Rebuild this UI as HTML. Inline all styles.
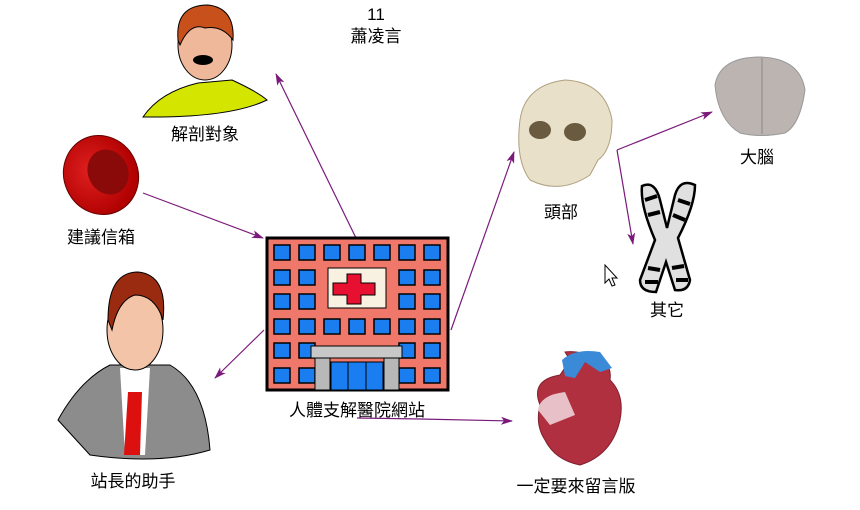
<!DOCTYPE html>
<html><head><meta charset="utf-8"><style>
body{margin:0;background:#fff;width:860px;height:510px;overflow:hidden}
svg{display:block}
text{font-family:"Liberation Sans","Noto Sans CJK TC",sans-serif;font-size:17px;fill:#000;text-anchor:middle}
</style></head><body>
<svg width="860" height="510" viewBox="0 0 860 510">
<defs>
<marker id="a" markerWidth="12" markerHeight="8" refX="11" refY="4" orient="auto" markerUnits="userSpaceOnUse">
<path d="M0,0 L12,4 L0,8 L3,4 Z" fill="#7a1a7a"/></marker>
<radialGradient id="rc" cx="0.4" cy="0.4" r="0.6"><stop offset="0" stop-color="#e02020"/><stop offset="1" stop-color="#b00000"/></radialGradient>
</defs>
<g stroke="#7a1a7a" stroke-width="1.2" fill="none">
<line x1="356" y1="238" x2="276" y2="74" marker-end="url(#a)"/>
<line x1="143" y1="193" x2="263" y2="238" marker-end="url(#a)"/>
<line x1="264" y1="330" x2="215" y2="378" marker-end="url(#a)"/>
<line x1="451" y1="330" x2="514" y2="152" marker-end="url(#a)"/>
<polyline points="357,418 420,419 512,421" marker-end="url(#a)"/>
<line x1="617" y1="150" x2="712" y2="112" marker-end="url(#a)"/>
<line x1="617" y1="150" x2="633" y2="244" marker-end="url(#a)"/>
</g>
<path d="M143,117 Q160,92 198,83 L232,80 Q258,92 267,100 Q230,118 143,117 Z" fill="#d4e600" stroke="#000"/>
<ellipse cx="205" cy="45" rx="27" ry="35" fill="#f0b89a" stroke="#000"/>
<path d="M178,40 Q175,5 208,5 Q235,8 233,40 Q222,25 205,28 Q190,22 180,45 Z" fill="#c8501a" stroke="#000"/>
<ellipse cx="203" cy="60" rx="10" ry="5" fill="#000"/>
<ellipse cx="101" cy="175" rx="37" ry="40" transform="rotate(-25 101 175)" fill="url(#rc)" stroke="#600"/>
<ellipse cx="108" cy="172" rx="20" ry="23" transform="rotate(-25 108 172)" fill="#8a0a0a"/>
<path d="M58,420 Q80,380 110,365 L170,365 Q205,385 210,450 Q160,465 90,455 Z" fill="#8c8c8c" stroke="#000"/>
<path d="M120,368 L150,368 L145,455 L125,455 Z" fill="#fff"/>
<path d="M128,392 L142,392 L140,455 L124,455 Z" fill="#dd1010"/>
<ellipse cx="135" cy="330" rx="28" ry="40" fill="#f4c4a8" stroke="#000"/>
<path d="M108,320 Q108,272 138,272 Q168,275 163,320 Q155,295 135,295 Q118,300 112,330 Z" fill="#9a2a10" stroke="#000"/>
<rect x="267" y="238" width="181" height="152" fill="#f0786a" stroke="#000" stroke-width="3"/>
<g fill="#1a7ef0" stroke="#000" stroke-width="1.5">
<rect x="274" y="245" width="16" height="15"/><rect x="299" y="245" width="16" height="15"/><rect x="324" y="245" width="16" height="15"/><rect x="349" y="245" width="16" height="15"/><rect x="374" y="245" width="16" height="15"/><rect x="399" y="245" width="16" height="15"/><rect x="424" y="245" width="16" height="15"/>
<rect x="274" y="270" width="16" height="15"/><rect x="299" y="270" width="16" height="15"/><rect x="399" y="270" width="16" height="15"/><rect x="424" y="270" width="16" height="15"/>
<rect x="274" y="294" width="16" height="15"/><rect x="299" y="294" width="16" height="15"/><rect x="399" y="294" width="16" height="15"/><rect x="424" y="294" width="16" height="15"/>
<rect x="274" y="319" width="16" height="15"/><rect x="299" y="319" width="16" height="15"/><rect x="324" y="319" width="16" height="15"/><rect x="349" y="319" width="16" height="15"/><rect x="374" y="319" width="16" height="15"/><rect x="399" y="319" width="16" height="15"/><rect x="424" y="319" width="16" height="15"/>
<rect x="274" y="343" width="16" height="15"/><rect x="299" y="343" width="16" height="15"/><rect x="399" y="343" width="16" height="15"/><rect x="424" y="343" width="16" height="15"/>
<rect x="274" y="368" width="16" height="15"/><rect x="299" y="368" width="16" height="15"/><rect x="399" y="368" width="16" height="15"/><rect x="424" y="368" width="16" height="15"/>
</g>
<rect x="328" y="268" width="58" height="40" fill="#f8f0e0" stroke="#000"/>
<path d="M347,274 h14 v9 h14 v12 h-14 v9 h-14 v-9 h-14 v-12 h14 Z" fill="#e81030" stroke="#000"/>
<rect x="311" y="346" width="91" height="12" fill="#c8c8c8" stroke="#000"/>
<rect x="315" y="358" width="15" height="32" fill="#b8b8b8" stroke="#000"/>
<rect x="384" y="358" width="15" height="32" fill="#b8b8b8" stroke="#000"/>
<rect x="331" y="362" width="52" height="28" fill="#1a7ef0" stroke="#000"/>
<line x1="348" y1="362" x2="348" y2="390" stroke="#000"/><line x1="366" y1="362" x2="366" y2="390" stroke="#000"/>
<path d="M520,120 Q525,85 565,80 Q605,82 612,120 Q612,150 598,160 L590,175 Q560,195 530,180 Q515,160 520,120 Z" fill="#e8e0c8" stroke="#b0a080"/>
<ellipse cx="540" cy="130" rx="11" ry="9" fill="#6a5a40"/><ellipse cx="575" cy="132" rx="11" ry="9" fill="#6a5a40"/>
<path d="M715,85 Q720,57 760,57 Q800,58 805,90 Q800,125 785,133 Q760,138 740,133 Q718,120 715,85 Z" fill="#bcb4b0" stroke="#999"/>
<line x1="762" y1="58" x2="762" y2="134" stroke="#888"/>
<path d="M642,186 Q655,180 660,200 L667,228 L675,195 Q680,178 695,185 Q695,205 678,238 L690,280 Q688,292 675,290 L666,262 L656,292 Q640,292 640,280 L655,240 Q640,205 642,186 Z" fill="#e0e0e0" stroke="#000" stroke-width="2.5"/>
<g stroke="#000" stroke-width="4"><line x1="645" y1="200" x2="657" y2="196"/><line x1="648" y1="215" x2="660" y2="212"/><line x1="678" y1="200" x2="690" y2="204"/><line x1="673" y1="215" x2="685" y2="220"/><line x1="648" y1="268" x2="660" y2="270"/><line x1="672" y1="268" x2="684" y2="266"/><line x1="645" y1="282" x2="658" y2="282"/><line x1="676" y1="280" x2="688" y2="280"/></g>
<path d="M605,265 L605,283 L609,279 L612,286 L615,285 L612,278 L617,278 Z" fill="#fff" stroke="#000"/>
<path d="M540,405 Q530,380 560,375 L570,360 L565,352 Q580,350 600,360 Q612,365 610,380 Q625,395 620,420 Q612,455 580,465 Q555,460 545,440 Q535,425 540,405 Z" fill="#b03040" stroke="#802030"/>
<path d="M562,360 Q575,348 600,352 L612,368 L600,372 L585,362 L575,378 L565,376 Z" fill="#3a8ad8"/>
<path d="M538,410 Q540,395 565,392 L575,415 L550,425 Z" fill="#e8c0c8"/>
<text x="376" y="20">11</text>
<text x="376" y="42">蕭凌言</text>
<text x="205" y="140">解剖對象</text>
<text x="101" y="243">建議信箱</text>
<text x="357" y="416">人體支解醫院網站</text>
<text x="133" y="487">站長的助手</text>
<text x="561" y="218">頭部</text>
<text x="757" y="163">大腦</text>
<text x="667" y="316">其它</text>
<text x="576" y="492">一定要來留言版</text>
</svg>
</body></html>
